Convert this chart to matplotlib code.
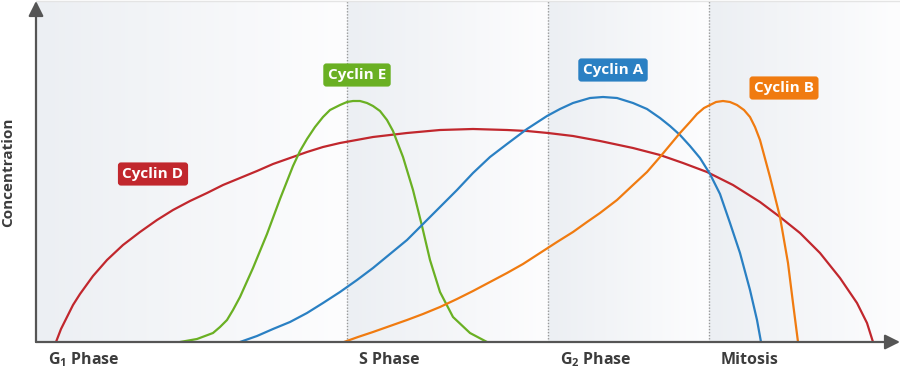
import matplotlib
matplotlib.use("Agg")
import matplotlib.pyplot as plt
import numpy as np
from matplotlib.colors import to_rgb

plt.rcParams['font.family'] = ['Open Sans', 'DejaVu Sans']
plt.rcParams['mathtext.fontset'] = 'custom'
plt.rcParams['mathtext.rm'] = 'Open Sans:bold'

# time runs along the x axis (arbitrary units), concentration up the y axis
d_time = [56, 61, 67, 73, 80, 93, 107, 123, 140, 157, 173, 190, 207, 223,
          240, 257, 273, 290, 307, 323, 340, 373, 407, 440, 473, 507, 527,
          548, 573, 600, 633, 660, 683, 707, 733, 760, 780, 800, 820, 840,
          857, 867, 873]
d_conc = [0, 13, 25, 37, 48, 66, 82, 97, 110, 122, 132, 141, 149, 157,
          164, 171, 178, 184, 190, 195, 199, 205, 209, 212, 213, 212, 211,
          209, 206, 201, 194, 187, 179, 170, 157, 140, 125, 109, 89, 64,
          39, 19, 0]

e_time = [180, 197, 213, 220, 227, 233, 240, 253, 267, 280, 293, 300, 307,
          315, 323, 330, 340, 347, 353, 360, 367, 373, 380, 387, 393, 403,
          413, 422, 430, 440, 453, 470, 487]
e_conc = [0, 3, 9, 15, 22, 32, 45, 74, 108, 143, 176, 191, 203,
          215, 225, 232, 237, 240, 241, 241, 239, 236, 231, 222, 211, 185,
          152, 116, 82, 50, 25, 9, 0]

a_time = [240, 257, 273, 290, 307, 323, 340, 357, 373, 390, 407, 423, 440,
          457, 473, 490, 507, 527, 547, 560, 573, 590, 603, 617, 633, 647,
          660, 670, 680, 690, 700, 710, 720, 730, 740, 750, 757, 761]
a_conc = [0, 6, 13, 20, 29, 39, 50, 62, 74, 88, 102, 118, 135,
          152, 169, 185, 198, 213, 226, 233, 239, 244, 245, 244, 239, 233,
          224, 216, 207, 196, 184, 168, 148, 119, 89, 52, 22, 0]

b_time = [344, 358, 373, 390, 407, 423, 440, 457, 473, 490, 507, 523, 540,
          557, 573, 587, 600, 617, 633, 647, 660, 670, 680, 690, 697, 704,
          710, 716, 723, 730, 737, 744, 750, 755, 760, 770, 780, 788, 793, 798]
b_conc = [0, 5, 10, 16, 22, 28, 35, 43, 51, 60, 69, 78, 89,
          100, 110, 120, 129, 142, 157, 170, 185, 197, 209, 220, 228, 234,
          237, 240, 241, 240, 237, 232, 225, 215, 202, 165, 125, 79, 39, 0]

cyclins = ['Cyclin D', 'Cyclin E', 'Cyclin A', 'Cyclin B']
cyclin_colors = ['#c1272d', '#6ab023', '#2a80c3', '#f07b10']
label_pos = [(153, 168), (357, 267), (613, 272), (784, 254)]

phase_edges = [36, 347, 548, 709, 900]
phase_names = ['G$_1$ Phase', 'S Phase', 'G$_2$ Phase', 'Mitosis']

top = 342

fig = plt.figure(figsize=(9, 3.73), dpi=100)
ax = fig.add_axes([36 / 900, 31 / 373, 864 / 900, 342 / 373])
ax.set_xlim(36, 900)
ax.set_ylim(0, top)
ax.axis('off')

# shaded phase bands, each fading to white on the right
c0 = np.array(to_rgb('#eceff3'))
c1 = np.array(to_rgb('#fdfdfe'))
grad = np.linspace(0, 1, 256)[None, :, None]
img = c0 * (1 - grad) + c1 * grad
for i in range(len(phase_edges) - 1):
    ax.imshow(img, extent=(phase_edges[i], phase_edges[i + 1], 0, top - 1),
              aspect='auto', zorder=0, interpolation='bilinear')
    if i > 0:
        ax.plot([phase_edges[i]] * 2, [0, top], color='#9a9a9a', lw=1,
                ls=(0, (1, 1.2)), zorder=1)
    ax.text(phase_edges[i] + 12, -18, phase_names[i], ha='left', va='center',
            fontsize=11.5, fontweight='bold', color='#3c3c3c', clip_on=False)
ax.plot([36, 900], [top - 1, top - 1], color='#e4e4e4', lw=1, zorder=1)

series = [(d_time, d_conc), (e_time, e_conc), (a_time, a_conc), (b_time, b_conc)]
for (t, c), col in zip(series, cyclin_colors):
    ax.plot(t, c, color=col, lw=1.6, zorder=3, solid_capstyle='butt',
            solid_joinstyle='round')

for name, col, (x, y) in zip(cyclins, cyclin_colors, label_pos):
    ax.text(x, y, name, ha='center', va='center', color='white', fontsize=11,
            fontweight='bold', zorder=5,
            bbox=dict(boxstyle='round,pad=0.3,rounding_size=0.2', fc=col, ec='none'))

# axes with arrow heads
arrow = dict(arrowstyle='-|>,head_length=0.9,head_width=0.45', color='#555555',
             lw=1.6, shrinkA=0, shrinkB=0, mutation_scale=10)
ax.annotate('', xy=(900, 0), xytext=(36, 0), arrowprops=arrow,
            annotation_clip=False, zorder=6)
ax.annotate('', xy=(36, top - 1), xytext=(36, 0), arrowprops=arrow,
            annotation_clip=False, zorder=6)

fig.text(8 / 900, 1 - 172 / 373, 'Concentration', rotation=90, ha='center',
         va='center', fontsize=11, fontweight='bold', color='#3c3c3c')

fig.savefig('out.png', dpi=100)
